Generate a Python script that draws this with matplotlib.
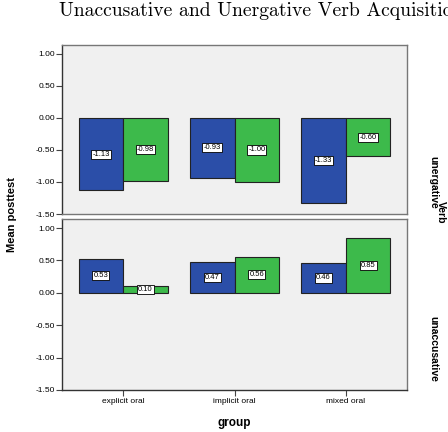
import matplotlib.pyplot as plt
import numpy as np

groups = ["explicit oral", "implicit oral", "mixed oral"]
panels = ["unergative", "unaccusative"]
# (blue, green) means per group, per verb type
unerg_blue = [-1.13, -0.93, -1.33]
unerg_green = [-0.98, -1.00, -0.60]
unacc_blue = [0.53, 0.47, 0.46]
unacc_green = [0.10, 0.56, 0.85]
yticks = [1.00, 0.50, 0.00, -0.50, -1.00, -1.50]

blue = "#2b4ea8"
green = "#3dba4b"

fig = plt.figure(figsize=(4.48, 4.32), dpi=100)
W, H = 448, 432

def box(l, t, r, b):
    return [l / W, 1 - b / H, (r - l) / W, (b - t) / H]

ax1 = fig.add_axes(box(62, 45, 407, 214))
ax2 = fig.add_axes(box(62, 219, 407, 390))

x = np.arange(len(groups))
bw = 0.40
for ax, bv, gv in [(ax1, unerg_blue, unerg_green), (ax2, unacc_blue, unacc_green)]:
    ax.set_facecolor("#f0f0f0")
    ax.bar(x - bw / 2, bv, bw, color=blue, edgecolor="#222222", lw=0.8)
    ax.bar(x + bw / 2, gv, bw, color=green, edgecolor="#222222", lw=0.8)
    for xs, vals in [(x - bw / 2, bv), (x + bw / 2, gv)]:
        for xi, v in zip(xs, vals):
            ax.text(xi, v / 2, f"{v:.2f}", ha="center", va="center", fontsize=5.5,
                    family="Liberation Sans",
                    bbox=dict(boxstyle="square,pad=0.15", fc="white", ec="black", lw=0.6))
    ax.set_xlim(-0.55, 2.55)
    ax.set_ylim(-1.5, 1.14)
    ax.set_yticks(yticks)
    ax.set_yticklabels([f"{t:.2f}" for t in yticks], fontsize=6, family="Liberation Sans")
    ax.tick_params(axis="y", length=4, width=0.8, pad=1, color="#444444")
    for s in ax.spines.values():
        s.set_color("#777777")
        s.set_linewidth(1.0)
    ax.spines["left"].set_color("#333333")

ax1.set_xticks([])
ax2.set_xticks(x)
ax2.set_xticklabels(groups, fontsize=6, family="Liberation Sans")
ax2.tick_params(axis="x", length=4, width=0.8, pad=2, color="#444444")
ax2.spines["bottom"].set_color("#333333")

fig.text(59 / W, 1 - 11 / H, "Unaccusative and Unergative Verb Acquisition",
         family="cmr10", fontsize=14.2, ha="left", va="center")
fig.text(12 / W, 1 - 215 / H, "Mean posttest", rotation=90, fontsize=8,
         fontweight="bold", family="Liberation Sans", ha="center", va="center")
fig.text(234 / W, 1 - 423 / H, "group", fontsize=8.5, fontweight="bold",
         family="Liberation Sans", ha="center", va="center")
fig.text(433 / W, 1 - 182 / H, panels[0], rotation=-90, fontsize=7.5,
         fontweight="bold", family="Liberation Sans", ha="center", va="center")
fig.text(433 / W, 1 - 349 / H, panels[1], rotation=-90, fontsize=7.5,
         fontweight="bold", family="Liberation Sans", ha="center", va="center")
fig.text(441 / W, 1 - 212 / H, "Verb", rotation=-90, fontsize=7.5,
         fontweight="bold", family="Liberation Sans", ha="center", va="center")

fig.savefig("out.png", dpi=100)
